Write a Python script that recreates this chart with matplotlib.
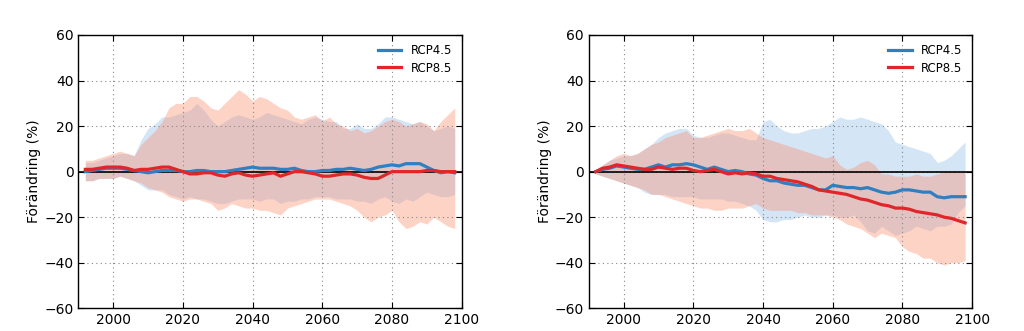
import numpy as np
import matplotlib
matplotlib.use("Agg")
import matplotlib.pyplot as plt

years = np.arange(1992, 2100, 2)

# left panel: ensemble mean and spread (%)
left_rcp45 = [0, 0.5, 1, 1.5, 1.5, 1.5, 1, 0.5, 0, -0.5, 0, 0.5, 0.5, 0.5, 0, 0, 0.5, 0.5,
              0, 0, 0, 0.5, 1, 1.5, 2, 1.5, 1.5, 1.5, 1, 1, 1.5, 0.5, 0, 0, 0.5, 0.5,
              1, 1, 1.5, 1, 0.5, 1, 2, 2.5, 3, 2.5, 3.5, 3.5, 3.5, 2, 0.5, -0.5, 0, -0.5]
left_rcp85 = [1, 1, 1.5, 2, 2, 2, 1.5, 0.5, 1, 1, 1.5, 2, 2, 1, 0, -1, -1, -0.5,
              -0.5, -1.5, -2, -1, -0.5, -1.5, -2, -1.5, -1, -0.5, -2, -1, 0, 0, -0.5, -1, -2, -2,
              -1.5, -1, -1, -1.5, -2.5, -3, -3, -1.5, 0, 0, 0, 0, 0, 0.5, 0.5, 0, 0, 0]
left_rcp45_hi = [4, 4, 5, 6, 7, 8, 8, 7, 14, 19, 21, 24, 24, 25, 26, 27, 30, 27,
                 23, 20, 22, 24, 25, 24, 23, 24, 26, 25, 24, 23, 22, 21, 23, 24, 23, 22,
                 22, 19, 19, 21, 19, 19, 21, 24, 24, 23, 22, 21, 22, 20, 18, 19, 20, 19]
left_rcp45_lo = [-4, -4, -3, -3, -3, -2, -3, -4, -6, -8, -8, -8, -10, -11, -12, -11, -12, -12,
                 -13, -14, -14, -13, -12, -12, -12, -13, -12, -12, -14, -13, -13, -12, -12, -11, -11, -11,
                 -12, -12, -12, -13, -13, -14, -12, -11, -13, -14, -12, -13, -11, -9, -10, -11, -11, -10]
left_rcp85_hi = [5, 5, 6, 7, 8, 9, 8, 7, 12, 15, 18, 22, 28, 30, 30, 33, 33, 31,
                 28, 27, 30, 33, 36, 34, 31, 33, 32, 30, 28, 27, 24, 23, 24, 25, 22, 24,
                 21, 20, 18, 19, 17, 18, 20, 22, 23, 22, 20, 21, 22, 21, 18, 22, 25, 28]
left_rcp85_lo = [-4, -4, -3, -3, -3, -2, -3, -4, -5, -7, -8, -9, -11, -12, -13, -12, -12, -13,
                 -14, -17, -16, -14, -15, -16, -16, -17, -17, -18, -19, -16, -15, -14, -13, -12, -12, -12,
                 -13, -14, -15, -17, -20, -22, -20, -19, -17, -22, -25, -24, -22, -23, -20, -22, -24, -25]

# right panel: ensemble mean and spread (%)
right_rcp45 = [0, 1, 1.5, 2.5, 2, 1.5, 1, 1, 2, 3, 2, 3, 3, 3.5, 3, 2, 1, 2,
               1, 0, 0.5, 0, -1, -1.5, -3, -4, -4, -5, -5.5, -6, -6, -7, -8, -8, -6, -6.5,
               -7, -7, -7.5, -7, -8, -9, -9.5, -9, -8, -8, -8.5, -9, -9, -11, -11.5, -11, -11, -11]
right_rcp85 = [0, 1.5, 2, 3, 2.5, 2, 1.5, 1, 1, 2, 1.5, 1, 1.5, 1.5, 0.5, 0, 0.5, 1,
               0, -1, -0.5, -1, -0.5, -1, -2, -2, -3, -3.5, -4, -4.5, -5.5, -6.5, -8, -8.5, -9, -9.5,
               -10, -11, -12, -12.5, -13.5, -14.5, -15, -16, -16, -16.5, -17.5, -18, -18.5, -19, -20, -20.5, -21.5, -22.5]
right_rcp45_hi = [1, 3, 5, 6, 7, 7, 8, 10, 12, 15, 17, 18, 19, 19, 16, 15, 15, 16,
                  17, 17, 16, 15, 14, 14, 22, 23, 20, 18, 17, 17, 18, 19, 19, 20, 22, 24,
                  23, 23, 24, 23, 22, 21, 18, 13, 12, 11, 10, 9, 8, 4, 5, 7, 10, 13]
right_rcp45_lo = [-1, -2, -3, -4, -5, -6, -7, -9, -10, -10, -10, -11, -11, -11, -11, -12, -12, -12,
                  -12, -13, -13, -14, -15, -17, -21, -22, -22, -21, -21, -20, -19, -20, -20, -19, -19, -20,
                  -20, -19, -22, -26, -27, -24, -26, -28, -27, -26, -24, -25, -26, -24, -24, -23, -18, -15]
right_rcp85_hi = [1, 3, 5, 7, 8, 7, 8, 10, 12, 13, 15, 16, 17, 18, 15, 15, 16, 17,
                  18, 19, 18, 18, 19, 17, 15, 14, 13, 12, 11, 10, 9, 8, 7, 6, 7, 3,
                  1, 2, 4, 5, 3, -1, -1, -2, -2, -2, -1, -2, -2, -1, 0, 0, 0, 0]
right_rcp85_lo = [-1, -2, -3, -4, -5, -6, -7, -8, -10, -10, -11, -12, -13, -14, -15, -16, -16, -17,
                  -17, -16, -16, -16, -15, -14, -16, -17, -17, -17, -17, -18, -18, -19, -19, -19, -20, -21,
                  -23, -24, -25, -27, -29, -27, -28, -29, -33, -35, -36, -38, -38, -40, -41, -40, -40, -39]

labels = ["RCP4.5", "RCP8.5"]
line_colors = ["#2f7fc1", "#e0262a"]
fill_colors = ["#94c0ea", "#fc9272"]
fill_alpha = [0.4, 0.4]

fig = plt.figure(figsize=(10.24, 3.31), dpi=100)
ax_left = fig.add_axes([0.0765, 0.0686, 0.3744, 0.8257])
ax_right = fig.add_axes([0.575, 0.0686, 0.3743, 0.8257])

panels = [
    (ax_left, [left_rcp45, left_rcp85], [left_rcp45_lo, left_rcp85_lo], [left_rcp45_hi, left_rcp85_hi]),
    (ax_right, [right_rcp45, right_rcp85], [right_rcp45_lo, right_rcp85_lo], [right_rcp45_hi, right_rcp85_hi]),
]

for ax, means, lows, highs in panels:
    for lo, hi, fc, a in zip(lows, highs, fill_colors, fill_alpha):
        ax.fill_between(years, lo, hi, color=fc, alpha=a, linewidth=0)
    ax.axhline(0, color="black", linewidth=1.2, zorder=3)
    for m, lab, lc in zip(means, labels, line_colors):
        ax.plot(years, m, color=lc, linewidth=2.3, label=lab, zorder=4)

    ax.set_xlim(1990, 2100)
    ax.set_ylim(-60, 60)
    ax.set_xticks([2000, 2020, 2040, 2060, 2080, 2100])
    ax.set_yticks([-60, -40, -20, 0, 20, 40, 60])
    ax.grid(True, color="#888888", linestyle=(0, (1, 3)), linewidth=0.8)
    ax.tick_params(direction="in", top=True, right=True, labelsize=10, length=4)
    for sp in ax.spines.values():
        sp.set_linewidth(1.0)
    ax.set_ylabel("Förändring (%)", fontsize=10, labelpad=2)
    ax.legend(loc="upper right", frameon=False, fontsize=8.5, handlelength=2.0,
              borderaxespad=0.4, labelspacing=0.35)

fig.savefig("out.png", dpi=100)
